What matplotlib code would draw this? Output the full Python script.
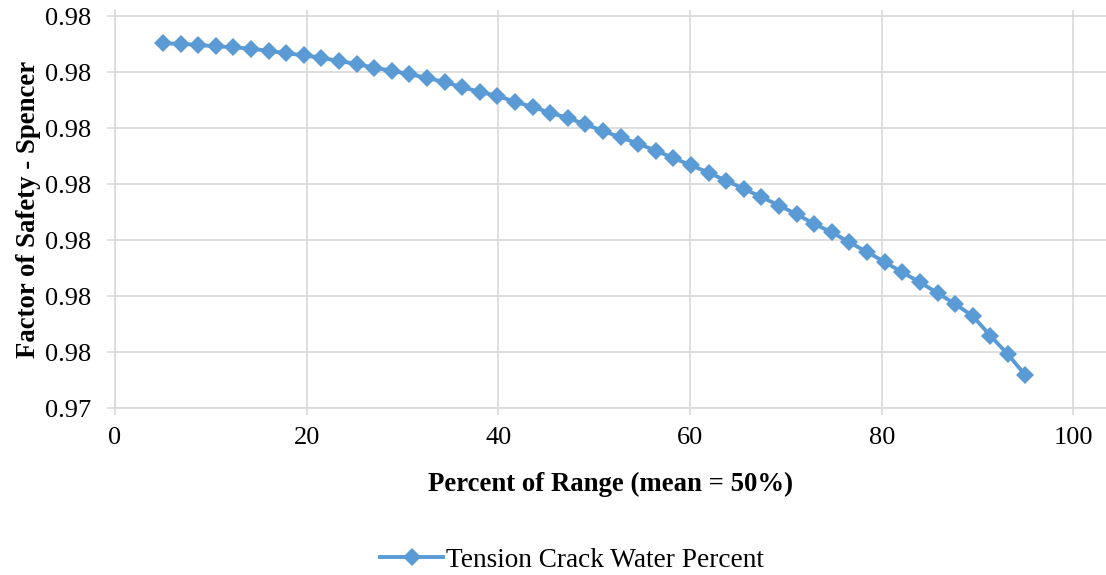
import matplotlib
matplotlib.use("Agg")
import matplotlib.pyplot as plt
from matplotlib.ticker import FixedLocator, FuncFormatter

# Waarden
percent_of_range = [5.00, 6.84, 8.67, 10.51, 12.35, 14.18, 16.02, 17.86, 19.69, 21.53,
                    23.37, 25.20, 27.04, 28.88, 30.71, 32.55, 34.39, 36.22, 38.06, 39.90,
                    41.73, 43.57, 45.41, 47.24, 49.08, 50.92, 52.76, 54.59, 56.43, 58.27,
                    60.10, 61.94, 63.78, 65.61, 67.45, 69.29, 71.12, 72.96, 74.80, 76.63,
                    78.47, 80.31, 82.14, 83.98, 85.82, 87.65, 89.49, 91.33, 93.16, 95.00]
factor_of_safety = [0.980512, 0.980505, 0.980482, 0.980459, 0.980441, 0.980416, 0.980380,
                    0.980334, 0.980298, 0.980255, 0.980196, 0.980143, 0.980077, 0.980023,
                    0.979959, 0.979898, 0.979816, 0.979732, 0.979643, 0.979571, 0.979470,
                    0.979375, 0.979273, 0.979179, 0.979066, 0.978946, 0.978834, 0.978720,
                    0.978595, 0.978464, 0.978334, 0.978202, 0.978059, 0.977914, 0.977768,
                    0.977616, 0.977459, 0.977286, 0.977137, 0.976959, 0.976786, 0.976607,
                    0.976423, 0.976245, 0.976054, 0.975857, 0.975643, 0.975291, 0.974959,
                    0.974584]
x_ticks = [0, 20, 40, 60, 80, 100]
y_ticks = [0.974, 0.975, 0.976, 0.977, 0.978, 0.979, 0.980, 0.981]
series_label = "Tension Crack Water Percent"

plt.rcParams['font.family'] = ['Liberation Serif', 'DejaVu Serif']
grid_color = '#d9d9d9'
line_color = '#5b9bd5'

fig = plt.figure(figsize=(11.06, 5.75), dpi=100)
W, H = 1106, 575
ax = fig.add_axes([115 / W, 1 - 408 / H, 1 - 115 / W, (408 - 10) / H])

ax.plot(percent_of_range, factor_of_safety, color=line_color, linewidth=2.8,
        marker='D', markersize=9.5, markeredgewidth=0, label=series_label)

ax.set_xlim(0, 103.4)
ax.set_ylim(0.974, 0.981 + 6 / 56000)
ax.xaxis.set_major_locator(FixedLocator(x_ticks))
ax.yaxis.set_major_locator(FixedLocator(y_ticks))
ax.yaxis.set_major_formatter(FuncFormatter(lambda v, p: f"{v + 1e-9:.2f}"))

ax.grid(True, color=grid_color, linewidth=1.2)
ax.set_axisbelow(True)
for side in ['top', 'right']:
    ax.spines[side].set_visible(False)
for side in ['left', 'bottom']:
    ax.spines[side].set_color(grid_color)
    ax.spines[side].set_linewidth(1.2)
ax.tick_params(axis='y', direction='out', length=6, width=1.2, color=grid_color,
               labelsize=19, pad=11)
ax.tick_params(axis='x', direction='out', length=5, width=1.2, color=grid_color,
               labelsize=19, pad=9)

ax.set_xlabel('Percent of Range (mean = 50%)', fontsize=19.3, fontweight='bold', labelpad=16)
ax.set_ylabel('Factor of Safety - Spencer', fontsize=19.3, fontweight='bold', labelpad=3)

fig.legend(loc='center', bbox_to_anchor=(0.517, 1 - 560 / H), frameon=False,
           fontsize=19.6, handlelength=2.3, handletextpad=0.1)

fig.savefig('out.png', dpi=100)
